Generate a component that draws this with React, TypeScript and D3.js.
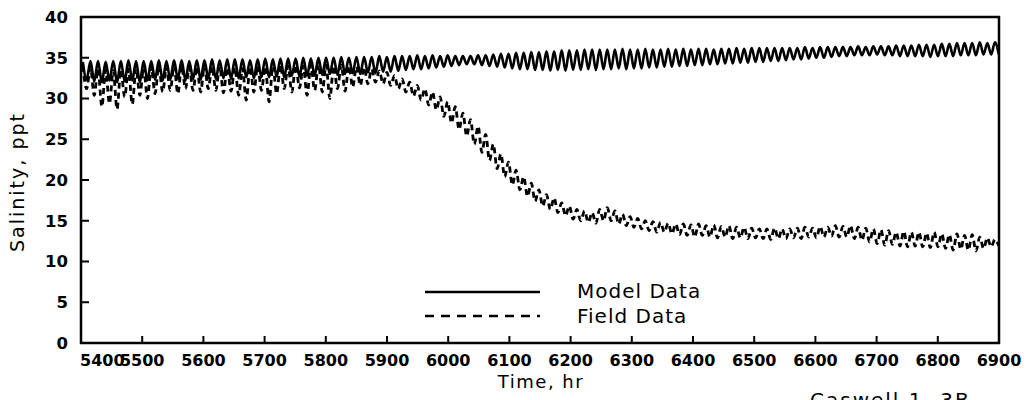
import React, { useEffect, useRef } from 'react'
import * as d3 from 'd3'

// tidal sampling: one high and one low per cycle
const tideStart = 5403
const tidePeriod = 12.42

const xTicks = [5400, 5500, 5600, 5700, 5800, 5900, 6000, 6100, 6200, 6300, 6400, 6500, 6600, 6700, 6800, 6900]
const yTicks = [0, 5, 10, 15, 20, 25, 30, 35, 40]

const modelHighs = [
	34.5, 34.6, 34.6, 34.5, 34.6, 34.6, 34.7, 34.6, 34.6, 34.6,
	34.7, 34.6, 34.7, 34.7, 34.6, 34.7, 34.7, 34.8, 34.7, 34.8,
	34.8, 34.8, 34.7, 34.8, 34.9, 34.8, 34.9, 34.9, 34.9, 35.0,
	34.9, 35.0, 35.0, 35.0, 35.1, 35.0, 35.1, 35.1, 35.1, 35.2,
	35.1, 35.2, 35.2, 35.2, 35.3, 35.2, 35.3, 35.2, 35.3, 35.2,
	35.2, 35.2, 35.3, 35.3, 35.4, 35.5, 35.5, 35.6, 35.6, 35.7,
	35.7, 35.8, 35.8, 35.9, 35.9, 35.9, 36.0, 36.0, 36.0, 36.0,
	36.0, 36.1, 36.0, 36.0, 36.1, 36.0, 36.0, 36.1, 36.0, 36.1,
	36.0, 36.1, 36.1, 36.0, 36.1, 36.1, 36.2, 36.1, 36.2, 36.2,
	36.2, 36.2, 36.2, 36.2, 36.2, 36.3, 36.2, 36.3, 36.3, 36.3,
	36.3, 36.3, 36.4, 36.3, 36.4, 36.4, 36.4, 36.5, 36.5, 36.5,
	36.6, 36.6, 36.6, 36.7, 36.7, 36.8, 36.8, 36.8, 36.9, 36.8, 36.9
]

const modelLows = [
	32.3, 32.1, 32.0, 32.2, 32.0, 32.1, 32.2, 32.0, 32.2, 32.3,
	32.2, 32.3, 32.4, 32.2, 32.4, 32.3, 32.5, 32.4, 32.5, 32.4,
	32.5, 32.6, 32.5, 32.6, 32.6, 32.7, 32.6, 32.8, 32.7, 32.8,
	32.8, 32.9, 33.0, 32.9, 33.0, 33.1, 33.0, 33.2, 33.1, 33.3,
	33.3, 33.4, 33.5, 33.6, 33.6, 33.7, 33.8, 33.9, 34.0, 34.1,
	34.2, 34.2, 34.1, 34.0, 33.9, 33.8, 33.7, 33.6, 33.6, 33.5,
	33.5, 33.4, 33.5, 33.4, 33.5, 33.5, 33.6, 33.5, 33.6, 33.6,
	33.7, 33.6, 33.7, 33.7, 33.8, 33.8, 33.9, 33.9, 34.0, 34.0,
	34.1, 34.1, 34.2, 34.2, 34.3, 34.3, 34.4, 34.4, 34.5, 34.5,
	34.6, 34.6, 34.7, 34.8, 34.8, 34.9, 35.0, 35.0, 35.1, 35.2,
	35.2, 35.3, 35.3, 35.3, 35.4, 35.3, 35.3, 35.2, 35.2, 35.2,
	35.2, 35.1, 35.2, 35.2, 35.2, 35.3, 35.3, 35.3, 35.4, 35.4, 35.4
]

const fieldHighs = [
	34.0, 33.8, 33.6, 33.5, 33.4, 33.5, 33.6, 33.7, 33.8, 33.9,
	34.0, 33.9, 34.0, 34.0, 33.8, 33.9, 34.0, 33.9, 34.0, 33.8,
	33.8, 33.7, 33.9, 34.0, 33.9, 34.0, 34.1, 34.0, 34.1, 34.0,
	34.1, 34.2, 34.1, 34.0, 34.1, 34.0, 33.9, 33.8, 33.6, 33.4,
	33.2, 32.8, 32.4, 32.0, 31.6, 31.2, 30.8, 30.2, 29.6, 29.0,
	28.2, 27.4, 26.6, 25.6, 24.4, 23.2, 22.2, 21.2, 20.4, 19.6,
	18.8, 18.2, 17.8, 17.2, 16.8, 16.4, 16.2, 16.0, 16.4, 16.6,
	16.2, 15.8, 15.5, 15.3, 15.0, 14.9, 14.8, 14.7, 14.6, 14.6,
	14.5, 14.6, 14.4, 14.5, 14.3, 14.4, 14.2, 14.2, 14.1, 14.0,
	14.0, 14.1, 14.0, 14.0, 14.1, 14.2, 14.1, 14.3, 14.2, 14.4,
	14.3, 14.4, 14.2, 14.1, 14.0, 13.9, 13.8, 13.6, 13.7, 13.6,
	13.6, 13.5, 13.6, 13.4, 13.3, 13.4, 13.2, 13.3, 13.0, 12.9, 12.7
]

const fieldLows = [
	31.2, 30.4, 29.0, 29.4, 28.7, 30.2, 29.3, 30.4, 30.0, 30.6,
	30.8, 31.0, 30.6, 31.2, 31.0, 30.8, 31.2, 31.0, 30.7, 30.9,
	30.4, 29.8, 30.8, 31.0, 29.6, 30.6, 31.2, 30.8, 31.3, 30.4,
	31.0, 30.8, 30.0, 31.2, 30.9, 31.4, 31.6, 31.8, 32.0, 31.8,
	31.6, 31.2, 30.8, 30.3, 29.8, 29.2, 28.6, 27.8, 27.0, 26.2,
	25.4, 24.4, 23.4, 22.4, 21.4, 20.4, 19.4, 18.8, 18.0, 17.4,
	16.8, 16.4, 16.0, 15.6, 15.2, 15.0, 14.8, 14.7, 15.0, 15.0,
	14.6, 14.4, 14.2, 14.0, 13.8, 13.6, 13.6, 13.4, 13.3, 13.2,
	13.0, 13.2, 13.0, 12.9, 13.0, 12.8, 12.9, 12.8, 12.9, 12.8,
	12.7, 12.8, 12.8, 12.9, 12.8, 13.0, 12.9, 13.0, 13.1, 13.0,
	13.0, 12.8, 12.6, 12.4, 12.2, 12.0, 12.1, 11.9, 11.8, 11.9,
	11.8, 11.7, 11.8, 11.6, 11.4, 11.5, 11.4, 11.3, 11.6, 11.8, 11.9
]

const tidal = (highs: number[], lows: number[]) => {
	const pts: [number, number][] = []
	highs.forEach((h, i) => {
		const t = tideStart + i * tidePeriod
		pts.push([t, h])
		pts.push([t + tidePeriod / 2, lows[i]])
	})
	return pts
}

const App = () => {
	const ref = useRef<SVGSVGElement>(null)

	const width = 1029
	const height = 400
	const left = 81
	const right = 999
	const top = 17
	const bottom = 343
	const font = 'DejaVu Sans, sans-serif'

	useEffect(() => {
		if (!ref.current) return
		const svg = d3.select(ref.current)
		svg.selectAll('*').remove()

		const x = d3.scaleLinear().domain([5400, 6900]).range([left, right])
		const y = d3.scaleLinear().domain([0, 40]).range([bottom, top])

		const line = d3
			.line<[number, number]>()
			.x(d => x(d[0]))
			.y(d => y(d[1]))
			.curve(d3.curveMonotoneX)

		// field data (dashed)
		svg
			.append('path')
			.attr('d', line(tidal(fieldHighs, fieldLows)))
			.attr('fill', 'none')
			.attr('stroke', '#000')
			.attr('stroke-width', 2.8)
			.attr('stroke-dasharray', '6,4')

		// model data (solid)
		svg
			.append('path')
			.attr('d', line(tidal(modelHighs, modelLows)))
			.attr('fill', 'none')
			.attr('stroke', '#000')
			.attr('stroke-width', 2.6)
			.attr('stroke-linejoin', 'round')

		// frame
		svg
			.append('rect')
			.attr('x', left)
			.attr('y', top)
			.attr('width', right - left)
			.attr('height', bottom - top)
			.attr('fill', 'none')
			.attr('stroke', '#000')
			.attr('stroke-width', 2.5)

		// ticks, pointing inward
		svg
			.append('g')
			.selectAll('line')
			.data(xTicks.slice(1, -1))
			.join('line')
			.attr('x1', d => x(d))
			.attr('x2', d => x(d))
			.attr('y1', bottom)
			.attr('y2', bottom - 7)
			.attr('stroke', '#000')
			.attr('stroke-width', 2)

		svg
			.append('g')
			.selectAll('line')
			.data(yTicks.slice(1, -1))
			.join('line')
			.attr('x1', left)
			.attr('x2', left + 8)
			.attr('y1', d => y(d))
			.attr('y2', d => y(d))
			.attr('stroke', '#000')
			.attr('stroke-width', 2)

		svg
			.append('g')
			.selectAll('text')
			.data(xTicks)
			.join('text')
			.attr('x', (d, i) => (i === 0 ? left - 1 : x(d)))
			.attr('y', 366)
			.attr('text-anchor', (d, i) => (i === 0 ? 'start' : 'middle'))
			.attr('font-family', font)
			.attr('font-weight', 'bold')
			.attr('font-size', 16)
			.text(d => d)

		svg
			.append('g')
			.selectAll('text')
			.data(yTicks)
			.join('text')
			.attr('x', 68)
			.attr('y', d => y(d))
			.attr('dy', '0.36em')
			.attr('text-anchor', 'end')
			.attr('font-family', font)
			.attr('font-weight', 'bold')
			.attr('font-size', 16.5)
			.text(d => d)

		svg
			.append('text')
			.attr('x', 541)
			.attr('y', 388)
			.attr('text-anchor', 'middle')
			.attr('font-family', font)
			.attr('font-size', 18)
			.attr('letter-spacing', 1.5)
			.text('Time, hr')

		svg
			.append('text')
			.attr('transform', 'translate(24,182) rotate(-90)')
			.attr('text-anchor', 'middle')
			.attr('font-family', font)
			.attr('font-size', 19)
			.attr('letter-spacing', 2)
			.text('Salinity, ppt')

		// legend
		svg
			.append('line')
			.attr('x1', 425)
			.attr('x2', 540)
			.attr('y1', 292)
			.attr('y2', 292)
			.attr('stroke', '#000')
			.attr('stroke-width', 2.6)

		svg
			.append('line')
			.attr('x1', 425)
			.attr('x2', 540)
			.attr('y1', 316)
			.attr('y2', 316)
			.attr('stroke', '#000')
			.attr('stroke-width', 2.6)
			.attr('stroke-dasharray', '9,7')

		svg
			.append('text')
			.attr('x', 577)
			.attr('y', 298)
			.attr('font-family', font)
			.attr('font-size', 20)
			.attr('letter-spacing', 1)
			.text('Model Data')

		svg
			.append('text')
			.attr('x', 577)
			.attr('y', 323)
			.attr('font-family', font)
			.attr('font-size', 20)
			.attr('letter-spacing', 1)
			.text('Field Data')

		// caption, cut by the bottom edge as in the source
		svg
			.append('text')
			.attr('x', 810)
			.attr('y', 407)
			.attr('font-family', font)
			.attr('font-size', 20)
			.attr('letter-spacing', 2)
			.text('Caswell 1, 3B')
	}, [])

	return (
		<svg
			ref={ref}
			width={width}
			height={height}
			style={{ position: 'absolute', left: 0, top: 0, background: '#fff' }}
		></svg>
	)
}

export default App
